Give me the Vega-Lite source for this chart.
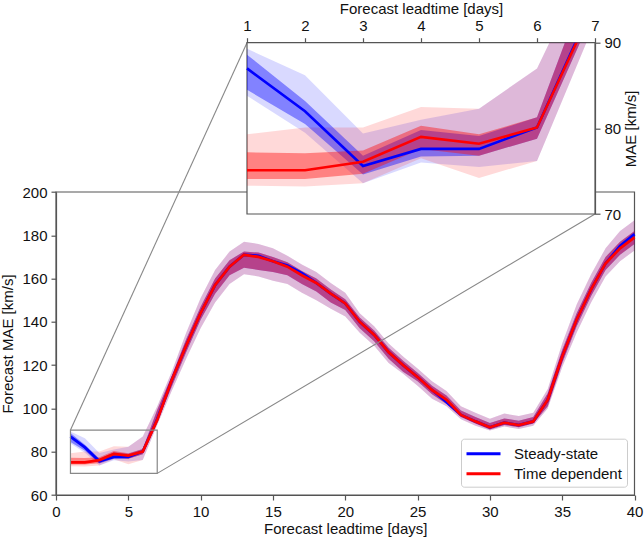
{
"$schema": "https://vega.github.io/schema/vega-lite/v6.json",
"width": 578.5,
"height": 452.3,
"autosize": {"type": "none"},
"padding": {"left": 56, "top": 42.7, "right": 9.5, "bottom": 46},
"background": "white",
"config": {
  "view": {"stroke": null},
  "font": "Liberation Sans",
  "axis": {"domainColor": "#555555", "tickColor": "#555555", "domainWidth": 1.2, "tickWidth": 1.2, "tickSize": 5, "labelColor": "#111111", "titleColor": "#111111", "labelFont": "Liberation Sans", "titleFont": "Liberation Sans", "labelFontSize": 15, "titleFontSize": 15, "titleFontWeight": "normal", "labelPadding": 4, "grid": false, "labelFlush": false, "labelOverlap": false},
  "legend": {"orient": "bottom-right", "title": null, "offset": 8, "padding": 5, "fillColor": "white", "strokeColor": "#cccccc", "cornerRadius": 3, "symbolType": "M-2,0H2", "symbolSize": 289, "symbolStrokeWidth": 3, "symbolOffset": 7.5, "labelFontSize": 15, "labelFont": "Liberation Sans", "labelColor": "#111111", "labelOffset": 20.5, "rowPadding": 2}
},
"datasets": {
  "mae": [
    {"s":"Steady-state","day":1,"y":87.0,"lo1":84.5,"hi1":88.6,"lo2":83.8,"hi2":89.3},
    {"s":"Steady-state","day":2,"y":82.0,"lo1":80.5,"hi1":83.2,"lo2":79.5,"hi2":86.2},
    {"s":"Steady-state","day":3,"y":75.6,"lo1":74.6,"hi1":76.8,"lo2":73.6,"hi2":79.4},
    {"s":"Steady-state","day":4,"y":77.6,"lo1":76.7,"hi1":79.8,"lo2":76.0,"hi2":81.0},
    {"s":"Steady-state","day":5,"y":77.6,"lo1":76.8,"hi1":79.1,"lo2":75.5,"hi2":82.3},
    {"s":"Steady-state","day":6,"y":80.1,"lo1":78.8,"hi1":81.3,"lo2":76.2,"hi2":87.0},
    {"s":"Steady-state","day":7,"y":95.0,"lo1":93.9,"hi1":99.4,"lo2":92.4,"hi2":101},
    {"s":"Steady-state","day":8,"y":113,"lo1":110,"hi1":115,"lo2":108,"hi2":117},
    {"s":"Steady-state","day":9,"y":129,"lo1":126,"hi1":132,"lo2":123,"hi2":135},
    {"s":"Steady-state","day":10,"y":144,"lo1":141,"hi1":147,"lo2":137,"hi2":151},
    {"s":"Steady-state","day":11,"y":157,"lo1":153,"hi1":160,"lo2":149,"hi2":164},
    {"s":"Steady-state","day":12,"y":165.5,"lo1":161.5,"hi1":168.5,"lo2":157.5,"hi2":172.5},
    {"s":"Steady-state","day":13,"y":171,"lo1":165,"hi1":172.5,"lo2":162,"hi2":177},
    {"s":"Steady-state","day":14,"y":170.5,"lo1":164,"hi1":172,"lo2":161,"hi2":176},
    {"s":"Steady-state","day":15,"y":168,"lo1":163,"hi1":170,"lo2":159,"hi2":174},
    {"s":"Steady-state","day":16,"y":166,"lo1":161.5,"hi1":167.5,"lo2":157.5,"hi2":170.5},
    {"s":"Steady-state","day":17,"y":162.5,"lo1":157.5,"hi1":163.5,"lo2":153.5,"hi2":166.5},
    {"s":"Steady-state","day":18,"y":158,"lo1":154,"hi1":160,"lo2":150,"hi2":163},
    {"s":"Steady-state","day":19,"y":153,"lo1":149,"hi1":155,"lo2":146,"hi2":158},
    {"s":"Steady-state","day":20,"y":148.5,"lo1":145.5,"hi1":150.5,"lo2":142.5,"hi2":153.5},
    {"s":"Steady-state","day":21,"y":140,"lo1":137,"hi1":142,"lo2":135,"hi2":144},
    {"s":"Steady-state","day":22,"y":134,"lo1":131,"hi1":136,"lo2":129,"hi2":138},
    {"s":"Steady-state","day":23,"y":126,"lo1":123,"hi1":128,"lo2":121,"hi2":130},
    {"s":"Steady-state","day":24,"y":120,"lo1":117,"hi1":122,"lo2":116,"hi2":124},
    {"s":"Steady-state","day":25,"y":114.5,"lo1":112.5,"hi1":116.5,"lo2":110.5,"hi2":118.5},
    {"s":"Steady-state","day":26,"y":108.5,"lo1":106.5,"hi1":110.5,"lo2":104.5,"hi2":112.5},
    {"s":"Steady-state","day":27,"y":103,"lo1":102,"hi1":106,"lo2":101,"hi2":108},
    {"s":"Steady-state","day":28,"y":97,"lo1":96,"hi1":99,"lo2":95,"hi2":101},
    {"s":"Steady-state","day":29,"y":94,"lo1":93,"hi1":96,"lo2":92,"hi2":98},
    {"s":"Steady-state","day":30,"y":91.3,"lo1":90.3,"hi1":93.3,"lo2":89.8,"hi2":95.2},
    {"s":"Steady-state","day":31,"y":93.4,"lo1":92.4,"hi1":95.4,"lo2":91.6,"hi2":97.6},
    {"s":"Steady-state","day":32,"y":92.3,"lo1":91.3,"hi1":94.3,"lo2":90.5,"hi2":96.5},
    {"s":"Steady-state","day":33,"y":94,"lo1":93,"hi1":96,"lo2":92,"hi2":98},
    {"s":"Steady-state","day":34,"y":104,"lo1":101,"hi1":107,"lo2":100,"hi2":109},
    {"s":"Steady-state","day":35,"y":124,"lo1":121,"hi1":127,"lo2":119,"hi2":130},
    {"s":"Steady-state","day":36,"y":141,"lo1":138,"hi1":144,"lo2":135,"hi2":148},
    {"s":"Steady-state","day":37,"y":155,"lo1":152,"hi1":158,"lo2":149,"hi2":162},
    {"s":"Steady-state","day":38,"y":167,"lo1":164,"hi1":170,"lo2":161,"hi2":174},
    {"s":"Steady-state","day":39,"y":175,"lo1":171,"hi1":177,"lo2":168,"hi2":182},
    {"s":"Steady-state","day":40,"y":180.5,"lo1":176,"hi1":182,"lo2":173,"hi2":187},
    {"s":"Time dependent","day":1,"y":75.1,"lo1":74.1,"hi1":77.2,"lo2":73.3,"hi2":79.3},
    {"s":"Time dependent","day":2,"y":75.1,"lo1":74.1,"hi1":77.1,"lo2":73.2,"hi2":80.1},
    {"s":"Time dependent","day":3,"y":76.1,"lo1":74.7,"hi1":77.4,"lo2":73.6,"hi2":80.1},
    {"s":"Time dependent","day":4,"y":79.0,"lo1":77.6,"hi1":80.3,"lo2":76.5,"hi2":82.5},
    {"s":"Time dependent","day":5,"y":78.2,"lo1":76.8,"hi1":79.3,"lo2":74.2,"hi2":82.3},
    {"s":"Time dependent","day":6,"y":80.1,"lo1":78.8,"hi1":81.3,"lo2":76.2,"hi2":87.0},
    {"s":"Time dependent","day":7,"y":94.7,"lo1":93.9,"hi1":99.4,"lo2":92.4,"hi2":101},
    {"s":"Time dependent","day":8,"y":113,"lo1":110,"hi1":115,"lo2":108,"hi2":117},
    {"s":"Time dependent","day":9,"y":129,"lo1":126,"hi1":132,"lo2":123,"hi2":135},
    {"s":"Time dependent","day":10,"y":144,"lo1":141,"hi1":147,"lo2":137,"hi2":151},
    {"s":"Time dependent","day":11,"y":157,"lo1":153,"hi1":160,"lo2":149,"hi2":164},
    {"s":"Time dependent","day":12,"y":165.5,"lo1":161.5,"hi1":168.5,"lo2":157.5,"hi2":172.5},
    {"s":"Time dependent","day":13,"y":171,"lo1":165,"hi1":172.5,"lo2":162,"hi2":177},
    {"s":"Time dependent","day":14,"y":170,"lo1":164,"hi1":172,"lo2":161,"hi2":176},
    {"s":"Time dependent","day":15,"y":168,"lo1":163,"hi1":170,"lo2":159,"hi2":174},
    {"s":"Time dependent","day":16,"y":165.5,"lo1":161.5,"hi1":167.5,"lo2":157.5,"hi2":170.5},
    {"s":"Time dependent","day":17,"y":161.5,"lo1":157.5,"hi1":163.5,"lo2":153.5,"hi2":166.5},
    {"s":"Time dependent","day":18,"y":158,"lo1":154,"hi1":160,"lo2":150,"hi2":163},
    {"s":"Time dependent","day":19,"y":153,"lo1":149,"hi1":155,"lo2":146,"hi2":158},
    {"s":"Time dependent","day":20,"y":148.5,"lo1":145.5,"hi1":150.5,"lo2":142.5,"hi2":153.5},
    {"s":"Time dependent","day":21,"y":140,"lo1":137,"hi1":142,"lo2":135,"hi2":144},
    {"s":"Time dependent","day":22,"y":134,"lo1":131,"hi1":136,"lo2":129,"hi2":138},
    {"s":"Time dependent","day":23,"y":126,"lo1":123,"hi1":128,"lo2":121,"hi2":130},
    {"s":"Time dependent","day":24,"y":120,"lo1":117,"hi1":122,"lo2":116,"hi2":124},
    {"s":"Time dependent","day":25,"y":114.5,"lo1":112.5,"hi1":116.5,"lo2":110.5,"hi2":118.5},
    {"s":"Time dependent","day":26,"y":108.5,"lo1":106.5,"hi1":110.5,"lo2":104.5,"hi2":112.5},
    {"s":"Time dependent","day":27,"y":104,"lo1":102,"hi1":106,"lo2":101,"hi2":108},
    {"s":"Time dependent","day":28,"y":97,"lo1":96,"hi1":99,"lo2":95,"hi2":101},
    {"s":"Time dependent","day":29,"y":94,"lo1":93,"hi1":96,"lo2":92,"hi2":98},
    {"s":"Time dependent","day":30,"y":91.3,"lo1":90.3,"hi1":93.3,"lo2":89.8,"hi2":95.2},
    {"s":"Time dependent","day":31,"y":93.4,"lo1":92.4,"hi1":95.4,"lo2":91.6,"hi2":97.6},
    {"s":"Time dependent","day":32,"y":92.3,"lo1":91.3,"hi1":94.3,"lo2":90.5,"hi2":96.5},
    {"s":"Time dependent","day":33,"y":94,"lo1":93,"hi1":96,"lo2":92,"hi2":98},
    {"s":"Time dependent","day":34,"y":104,"lo1":101,"hi1":107,"lo2":100,"hi2":109},
    {"s":"Time dependent","day":35,"y":124,"lo1":121,"hi1":127,"lo2":119,"hi2":130},
    {"s":"Time dependent","day":36,"y":141,"lo1":138,"hi1":144,"lo2":135,"hi2":148},
    {"s":"Time dependent","day":37,"y":155,"lo1":152,"hi1":158,"lo2":149,"hi2":162},
    {"s":"Time dependent","day":38,"y":167,"lo1":164,"hi1":170,"lo2":161,"hi2":174},
    {"s":"Time dependent","day":39,"y":174,"lo1":171,"hi1":177,"lo2":168,"hi2":182},
    {"s":"Time dependent","day":40,"y":179,"lo1":176,"hi1":182,"lo2":173,"hi2":187}
  ],
  "box": [{"x0":0,"x1":40,"y0":60,"y1":200}],
  "zoombox": [{"x0":1,"x1":7,"y0":70,"y1":90}],
  "conn": [{"xa":1,"ya":90,"xb":13.206,"yb":268.98},{"xa":7,"ya":70,"xb":37.27,"yb":189.83}]
},
"layer": [
  {
    "layer": [
      {
        "data": {"name": "box"},
        "mark": {"type": "rect", "fill": "white", "fillOpacity": 0, "stroke": "#555555", "strokeWidth": 1.2},
        "encoding": {
          "x": {"field": "x0", "type": "quantitative", "scale": {"domain": [0, 40], "nice": false, "zero": false}, "axis": {"orient": "bottom", "values": [0,5,10,15,20,25,30,35,40], "title": "Forecast leadtime [days]", "titlePadding": 2}},
          "x2": {"field": "x1"},
          "y": {"field": "y0", "type": "quantitative", "scale": {"domain": [60, 200], "range": [452.3, 149.3], "nice": false, "zero": false}, "axis": {"orient": "left", "values": [60,80,100,120,140,160,180,200], "title": "Forecast MAE [km/s]", "titlePadding": 6}},
          "y2": {"field": "y1"}
        }
      },
      {
        "data": {"name": "mae"},
        "transform": [{"filter": "datum.s == 'Steady-state'"}],
        "mark": {"type": "area", "color": "#0000ff", "opacity": 0.15},
        "encoding": {
          "x": {"field": "day", "type": "quantitative", "scale": {"domain": [0, 40], "nice": false, "zero": false}, "axis": {"orient": "bottom", "values": [0,5,10,15,20,25,30,35,40], "title": "Forecast leadtime [days]", "titlePadding": 2}},
          "y": {"field": "lo2", "type": "quantitative", "scale": {"domain": [60, 200], "range": [452.3, 149.3], "nice": false, "zero": false}, "axis": {"orient": "left", "values": [60,80,100,120,140,160,180,200], "title": "Forecast MAE [km/s]", "titlePadding": 6}},
          "y2": {"field": "hi2"}
        }
      },
      {
        "data": {"name": "mae"},
        "transform": [{"filter": "datum.s == 'Time dependent'"}],
        "mark": {"type": "area", "color": "#ff0000", "opacity": 0.15},
        "encoding": {
          "x": {"field": "day", "type": "quantitative", "scale": {"domain": [0, 40], "nice": false, "zero": false}, "axis": {"orient": "bottom", "values": [0,5,10,15,20,25,30,35,40], "title": "Forecast leadtime [days]", "titlePadding": 2}},
          "y": {"field": "lo2", "type": "quantitative", "scale": {"domain": [60, 200], "range": [452.3, 149.3], "nice": false, "zero": false}, "axis": {"orient": "left", "values": [60,80,100,120,140,160,180,200], "title": "Forecast MAE [km/s]", "titlePadding": 6}},
          "y2": {"field": "hi2"}
        }
      },
      {
        "data": {"name": "mae"},
        "transform": [{"filter": "datum.s == 'Steady-state'"}],
        "mark": {"type": "area", "color": "#0000ff", "opacity": 0.4},
        "encoding": {
          "x": {"field": "day", "type": "quantitative", "scale": {"domain": [0, 40], "nice": false, "zero": false}, "axis": {"orient": "bottom", "values": [0,5,10,15,20,25,30,35,40], "title": "Forecast leadtime [days]", "titlePadding": 2}},
          "y": {"field": "lo1", "type": "quantitative", "scale": {"domain": [60, 200], "range": [452.3, 149.3], "nice": false, "zero": false}, "axis": {"orient": "left", "values": [60,80,100,120,140,160,180,200], "title": "Forecast MAE [km/s]", "titlePadding": 6}},
          "y2": {"field": "hi1"}
        }
      },
      {
        "data": {"name": "mae"},
        "transform": [{"filter": "datum.s == 'Time dependent'"}],
        "mark": {"type": "area", "color": "#ff0000", "opacity": 0.4},
        "encoding": {
          "x": {"field": "day", "type": "quantitative", "scale": {"domain": [0, 40], "nice": false, "zero": false}, "axis": {"orient": "bottom", "values": [0,5,10,15,20,25,30,35,40], "title": "Forecast leadtime [days]", "titlePadding": 2}},
          "y": {"field": "lo1", "type": "quantitative", "scale": {"domain": [60, 200], "range": [452.3, 149.3], "nice": false, "zero": false}, "axis": {"orient": "left", "values": [60,80,100,120,140,160,180,200], "title": "Forecast MAE [km/s]", "titlePadding": 6}},
          "y2": {"field": "hi1"}
        }
      },
      {
        "data": {"name": "mae"},
        "mark": {"type": "line", "strokeWidth": 2.8},
        "encoding": {
          "x": {"field": "day", "type": "quantitative", "scale": {"domain": [0, 40], "nice": false, "zero": false}, "axis": {"orient": "bottom", "values": [0,5,10,15,20,25,30,35,40], "title": "Forecast leadtime [days]", "titlePadding": 2}},
          "y": {"field": "y", "type": "quantitative", "scale": {"domain": [60, 200], "range": [452.3, 149.3], "nice": false, "zero": false}, "axis": {"orient": "left", "values": [60,80,100,120,140,160,180,200], "title": "Forecast MAE [km/s]", "titlePadding": 6}},
          "color": {"field": "s", "type": "nominal", "scale": {"domain": ["Steady-state", "Time dependent"], "range": ["#0000ff", "#ff0000"]}, "legend": {"title": null}}
        }
      },
      {
        "data": {"name": "zoombox"},
        "mark": {"type": "rect", "fill": "white", "fillOpacity": 0, "stroke": "#888888", "strokeWidth": 1.2},
        "encoding": {
          "x": {"field": "x0", "type": "quantitative", "scale": {"domain": [0, 40], "nice": false, "zero": false}, "axis": {"orient": "bottom", "values": [0,5,10,15,20,25,30,35,40], "title": "Forecast leadtime [days]", "titlePadding": 2}},
          "x2": {"field": "x1"},
          "y": {"field": "y0", "type": "quantitative", "scale": {"domain": [60, 200], "range": [452.3, 149.3], "nice": false, "zero": false}, "axis": {"orient": "left", "values": [60,80,100,120,140,160,180,200], "title": "Forecast MAE [km/s]", "titlePadding": 6}},
          "y2": {"field": "y1"}
        }
      },
      {
        "data": {"name": "conn"},
        "mark": {"type": "rule", "stroke": "#888888", "strokeWidth": 1.1},
        "encoding": {
          "x": {"field": "xa", "type": "quantitative", "scale": {"domain": [0, 40], "nice": false, "zero": false}, "axis": {"orient": "bottom", "values": [0,5,10,15,20,25,30,35,40], "title": "Forecast leadtime [days]", "titlePadding": 2}},
          "x2": {"field": "xb"},
          "y": {"field": "ya", "type": "quantitative", "scale": {"domain": [60, 200], "range": [452.3, 149.3], "nice": false, "zero": false}, "axis": {"orient": "left", "values": [60,80,100,120,140,160,180,200], "title": "Forecast MAE [km/s]", "titlePadding": 6}},
          "y2": {"field": "yb"}
        }
      }
    ]
  },
  {
    "layer": [
      {
        "data": {"name": "zoombox"},
        "mark": {"type": "rect", "fill": "white", "stroke": "#555555", "strokeWidth": 1.2},
        "encoding": {
          "x": {"field": "x0", "type": "quantitative", "scale": {"domain": [1, 7], "range": [191, 539], "nice": false, "zero": false}, "axis": {"orient": "top", "values": [1,2,3,4,5,6,7], "title": "Forecast leadtime [days]", "titlePadding": 2}},
          "x2": {"field": "x1"},
          "y": {"field": "y0", "type": "quantitative", "scale": {"domain": [70, 90], "range": [171.3, 0], "nice": false, "zero": false}, "axis": {"orient": "right", "offset": -39.5, "values": [70, 80, 90], "title": "MAE [km/s]", "titleAngle": 270, "titleBaseline": "top", "titlePadding": 3}},
          "y2": {"field": "y1"}
        }
      },
      {
        "data": {"name": "mae"},
        "transform": [{"filter": "datum.day <= 7 && datum.s == 'Steady-state'"}],
        "mark": {"type": "area", "color": "#0000ff", "opacity": 0.15, "clip": true},
        "encoding": {
          "x": {"field": "day", "type": "quantitative", "scale": {"domain": [1, 7], "range": [191, 539], "nice": false, "zero": false}, "axis": {"orient": "top", "values": [1,2,3,4,5,6,7], "title": "Forecast leadtime [days]", "titlePadding": 2}},
          "y": {"field": "lo2", "type": "quantitative", "scale": {"domain": [70, 90], "range": [171.3, 0], "nice": false, "zero": false}, "axis": {"orient": "right", "offset": -39.5, "values": [70, 80, 90], "title": "MAE [km/s]", "titleAngle": 270, "titleBaseline": "top", "titlePadding": 3}},
          "y2": {"field": "hi2"}
        }
      },
      {
        "data": {"name": "mae"},
        "transform": [{"filter": "datum.day <= 7 && datum.s == 'Time dependent'"}],
        "mark": {"type": "area", "color": "#ff0000", "opacity": 0.15, "clip": true},
        "encoding": {
          "x": {"field": "day", "type": "quantitative", "scale": {"domain": [1, 7], "range": [191, 539], "nice": false, "zero": false}, "axis": {"orient": "top", "values": [1,2,3,4,5,6,7], "title": "Forecast leadtime [days]", "titlePadding": 2}},
          "y": {"field": "lo2", "type": "quantitative", "scale": {"domain": [70, 90], "range": [171.3, 0], "nice": false, "zero": false}, "axis": {"orient": "right", "offset": -39.5, "values": [70, 80, 90], "title": "MAE [km/s]", "titleAngle": 270, "titleBaseline": "top", "titlePadding": 3}},
          "y2": {"field": "hi2"}
        }
      },
      {
        "data": {"name": "mae"},
        "transform": [{"filter": "datum.day <= 7 && datum.s == 'Steady-state'"}],
        "mark": {"type": "area", "color": "#0000ff", "opacity": 0.4, "clip": true},
        "encoding": {
          "x": {"field": "day", "type": "quantitative", "scale": {"domain": [1, 7], "range": [191, 539], "nice": false, "zero": false}, "axis": {"orient": "top", "values": [1,2,3,4,5,6,7], "title": "Forecast leadtime [days]", "titlePadding": 2}},
          "y": {"field": "lo1", "type": "quantitative", "scale": {"domain": [70, 90], "range": [171.3, 0], "nice": false, "zero": false}, "axis": {"orient": "right", "offset": -39.5, "values": [70, 80, 90], "title": "MAE [km/s]", "titleAngle": 270, "titleBaseline": "top", "titlePadding": 3}},
          "y2": {"field": "hi1"}
        }
      },
      {
        "data": {"name": "mae"},
        "transform": [{"filter": "datum.day <= 7 && datum.s == 'Time dependent'"}],
        "mark": {"type": "area", "color": "#ff0000", "opacity": 0.4, "clip": true},
        "encoding": {
          "x": {"field": "day", "type": "quantitative", "scale": {"domain": [1, 7], "range": [191, 539], "nice": false, "zero": false}, "axis": {"orient": "top", "values": [1,2,3,4,5,6,7], "title": "Forecast leadtime [days]", "titlePadding": 2}},
          "y": {"field": "lo1", "type": "quantitative", "scale": {"domain": [70, 90], "range": [171.3, 0], "nice": false, "zero": false}, "axis": {"orient": "right", "offset": -39.5, "values": [70, 80, 90], "title": "MAE [km/s]", "titleAngle": 270, "titleBaseline": "top", "titlePadding": 3}},
          "y2": {"field": "hi1"}
        }
      },
      {
        "data": {"name": "mae"},
        "transform": [{"filter": "datum.day <= 7"}],
        "mark": {"type": "line", "strokeWidth": 2.6, "clip": true},
        "encoding": {
          "x": {"field": "day", "type": "quantitative", "scale": {"domain": [1, 7], "range": [191, 539], "nice": false, "zero": false}, "axis": {"orient": "top", "values": [1,2,3,4,5,6,7], "title": "Forecast leadtime [days]", "titlePadding": 2}},
          "y": {"field": "y", "type": "quantitative", "scale": {"domain": [70, 90], "range": [171.3, 0], "nice": false, "zero": false}, "axis": {"orient": "right", "offset": -39.5, "values": [70, 80, 90], "title": "MAE [km/s]", "titleAngle": 270, "titleBaseline": "top", "titlePadding": 3}},
          "color": {"field": "s", "type": "nominal", "scale": {"domain": ["Steady-state", "Time dependent"], "range": ["#0000ff", "#ff0000"]}, "legend": {"title": null}}
        }
      }
    ]
  }
],
"resolve": {"scale": {"x": "independent", "y": "independent"}}
}
